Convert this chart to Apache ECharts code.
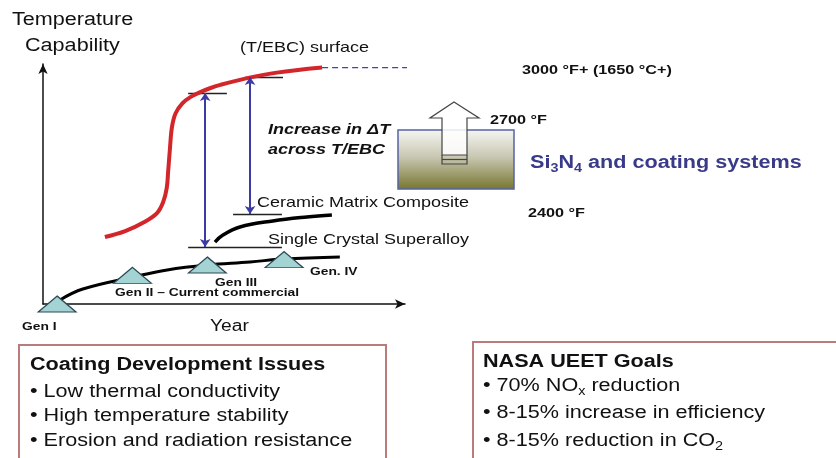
<!DOCTYPE html>
<html>
<head>
<meta charset="utf-8">
<script src="https://cdn.jsdelivr.net/npm/echarts@6/dist/echarts.min.js"></script>
<style>
  html, body { margin: 0; padding: 0; background: #fff; }
  #chart { width: 836px; height: 458px; }
</style>
</head>
<body>
<div id="chart"></div>
<script>
// Schematic scale: year (0-100) against temperature capability (0-100)
const tebcSurface = [[17.1, 27.9], [22.7, 30.4], [28.0, 34.2], [31.5, 37.9], [33.2, 42.5], [34.2, 48.5],
  [34.6, 55.8], [35.1, 65.4], [35.6, 73.5], [36.6, 79.4], [38.5, 83.6], [40.8, 86.3], [43.6, 88.4],
  [46.3, 90.0], [49.0, 91.3], [56.4, 94.1], [64.6, 96.4], [77.1, 98.5]];
const surfaceGoal = [[77.1, 98.5], [128.5, 98.5]];
const cmcCurve = [[47.5, 25.8], [49.7, 28.75], [54.4, 32.1], [63.5, 34.6], [72.9, 36.25], [79.8, 37.1]];
const superalloyCurve = [[4.7, 1.7], [11.0, 6.25], [24.9, 11.25], [34.3, 14.2], [45.3, 16.25], [57.2, 17.5],
  [66.3, 18.75], [82.0, 19.6]];
const generations = ['Gen I', 'Gen II', 'Gen III', 'Gen IV'];
const generationPoints = [[3.9, 0], [24.7, 11.9], [45.4, 16.25], [66.6, 18.5]];
const levelMarks = [
  [[40.1, 87.9], [50.8, 87.9]],
  [[55.8, 94.6], [66.3, 94.6]],
  [[52.5, 37.5], [66.0, 37.5]],
  [[40.1, 23.75], [66.0, 23.75]]
];
const deltaTSpans = [
  [[44.8, 23.75], [44.8, 87.9]],
  [[57.2, 37.5], [57.2, 94.6]]
];
const issues = ['Low thermal conductivity', 'High temperature stability', 'Erosion and radiation resistance'];

const FONT = '"Liberation Sans", Arial, Helvetica, sans-serif';
const STRETCH = 1.2;

function label(x, y, text, size, extra) {
  const style = Object.assign({
    text: text, fontSize: size, fontFamily: FONT, fill: '#111',
    align: 'left', verticalAlign: 'middle', textAlign: 'left', textVerticalAlign: 'middle'
  }, extra || {});
  return { type: 'text', x: x, y: y, scaleX: STRETCH, z: 100, style: style };
}

const chart = echarts.init(document.getElementById('chart'), null, { renderer: 'canvas' });

const hiddenAxis = {
  type: 'value', min: 0, max: 100,
  axisLine: { show: true, symbol: ['none', 'arrow'], symbolSize: [7, 10], lineStyle: { color: '#111', width: 1.5 } },
  axisTick: { show: false }, axisLabel: { show: false }, splitLine: { show: false }
};

const bulletRich = {
  n: { fontSize: 18, fontFamily: FONT, fill: '#111', lineHeight: 24 },
  s: { fontSize: 12, fontFamily: FONT, fill: '#111', lineHeight: 12, verticalAlign: 'bottom' }
};

const graphics = [
  // Temperature axis title
  label(12, 20, 'Temperature', 18),
  label(25, 46, 'Capability', 18),
  label(210, 327, 'Year', 16),
  label(240, 48, '(T/EBC) surface', 15),
  label(522, 70, '3000 °F+ (1650 °C+)', 13.5, { fontWeight: 'bold' }),
  label(268, 130, 'Increase in ΔT', 15, { fontWeight: 'bold', fontStyle: 'italic' }),
  label(268, 150, 'across T/EBC', 15, { fontWeight: 'bold', fontStyle: 'italic' }),
  label(257, 203, 'Ceramic Matrix Composite', 15),
  label(268, 240, 'Single Crystal Superalloy', 15),
  label(22, 327, 'Gen I', 11.5, { fontWeight: 'bold' }),
  label(115, 293, 'Gen II – Current commercial', 11.5, { fontWeight: 'bold' }),
  label(215, 283, 'Gen III', 11.5, { fontWeight: 'bold' }),
  label(310, 272, 'Gen. IV', 11.5, { fontWeight: 'bold' }),
  label(490, 120, '2700 °F', 13.5, { fontWeight: 'bold' }),
  label(528, 213, '2400 °F', 13.5, { fontWeight: 'bold' }),
  label(530, 163, '{b|Si}{s|3}{b|N}{s|4}{b| and coating systems}', 18, {
    rich: {
      b: { fontSize: 18, fontWeight: 'bold', fontFamily: FONT, fill: '#3a3a8a', lineHeight: 24 },
      s: { fontSize: 12, fontWeight: 'bold', fontFamily: FONT, fill: '#3a3a8a', lineHeight: 14, verticalAlign: 'bottom' }
    }
  }),
  // Si3N4 block with gradient fill
  {
    type: 'rect', z: 50,
    shape: { x: 398, y: 130, width: 116, height: 59 },
    style: {
      fill: { type: 'linear', x: 0, y: 0, x2: 0, y2: 1,
        colorStops: [{ offset: 0, color: '#f6f6f3' }, { offset: 0.45, color: '#c9c8b4' }, { offset: 1, color: '#76752e' }] },
      stroke: '#5563a6', lineWidth: 1.5
    }
  },
  // Hollow upward arrow
  {
    type: 'polygon', z: 60,
    shape: { points: [[454, 102], [479, 118], [467, 118], [467, 155], [442, 155], [442, 118], [430, 118]] },
    style: { fill: 'rgba(255,255,255,0.85)', stroke: '#444', lineWidth: 1.2 }
  },
  { type: 'polyline', z: 61, shape: { points: [[442, 155], [442, 164], [467, 164], [467, 155]] },
    style: { fill: 'none', stroke: '#444', lineWidth: 1.2 } },
  { type: 'line', z: 61, shape: { x1: 442, y1: 159.5, x2: 467, y2: 159.5 }, style: { stroke: '#444', lineWidth: 1.2 } },
  // Bottom panels
  { type: 'rect', z: 40, shape: { x: 19, y: 345, width: 367, height: 130 },
    style: { fill: '#fff', stroke: '#b87c7c', lineWidth: 2 } },
  { type: 'rect', z: 40, shape: { x: 473, y: 342, width: 380, height: 130 },
    style: { fill: '#fff', stroke: '#b87c7c', lineWidth: 2 } },
  label(30, 365, 'Coating Development Issues', 18, { fontWeight: 'bold' }),
  label(483, 362, 'NASA UEET Goals', 18, { fontWeight: 'bold' }),
  label(483, 386, '{n|• 70% NO}{s|x}{n| reduction}', 18, { rich: bulletRich }),
  label(483, 413, '• 8-15% increase in efficiency', 18),
  label(483, 441, '{n|• 8-15% reduction in CO}{s|2}', 18, { rich: bulletRich })
];
issues.forEach(function (t, i) {
  graphics.push(label(30, 392 + i * 24.5, '• ' + t, 18));
});

chart.setOption({
  animation: false,
  backgroundColor: '#fff',
  grid: { left: 43, top: 64, width: 362, height: 240, containLabel: false },
  xAxis: hiddenAxis,
  yAxis: hiddenAxis,
  graphic: graphics,
  series: [
    {
      name: 'T/EBC surface', type: 'line', data: tebcSurface, smooth: 0.35, showSymbol: false, clip: false,
      lineStyle: { color: '#d3262b', width: 4 }, z: 3
    },
    {
      name: 'Surface goal', type: 'line', data: surfaceGoal, showSymbol: false, clip: false,
      lineStyle: { color: '#3848a8', width: 1.3, type: [6, 4] }, z: 3
    },
    {
      name: 'Ceramic Matrix Composite', type: 'line', data: cmcCurve, smooth: 0.4, showSymbol: false, clip: false,
      lineStyle: { color: '#000', width: 3.5 }, z: 3
    },
    {
      name: 'Single Crystal Superalloy', type: 'line', data: superalloyCurve, smooth: 0.4, showSymbol: false, clip: false,
      lineStyle: { color: '#000', width: 3 }, z: 3
    },
    {
      name: 'Levels', type: 'lines', coordinateSystem: 'cartesian2d', clip: false,
      data: levelMarks.map(function (c) { return { coords: c }; }),
      lineStyle: { color: '#222', width: 1.4, opacity: 1 }, symbol: 'none', z: 2
    },
    {
      name: 'Delta T', type: 'lines', coordinateSystem: 'cartesian2d', clip: false,
      data: deltaTSpans.map(function (c) { return { coords: c }; }),
      lineStyle: { color: '#3b3ba3', width: 2, opacity: 1 }, symbol: ['arrow', 'arrow'], symbolSize: 8, z: 4
    },
    {
      name: 'Generations', type: 'scatter', clip: false,
      data: generationPoints.map(function (p, i) { return { name: generations[i], value: p }; }),
      symbol: 'triangle', symbolSize: [38, 16],
      itemStyle: { color: '#a3d3d3', borderColor: '#2e4a55', borderWidth: 1.2, opacity: 1 }, z: 5
    }
  ]
});
</script>
</body>
</html>
